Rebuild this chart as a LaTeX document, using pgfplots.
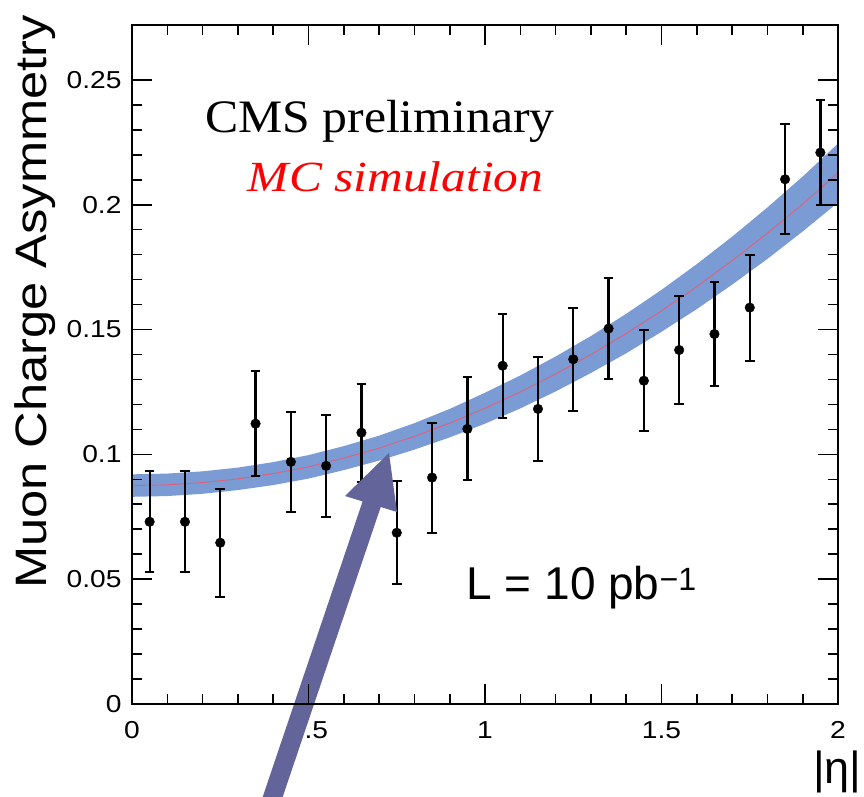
\documentclass[border=0pt]{standalone}
\usepackage{pgfplots}
\pgfplotsset{compat=1.18}
\usepackage{pgfplotstable}
\usepgfplotslibrary{fillbetween}
\usepackage{fontspec}
\setmainfont{Liberation Sans}
\newfontfamily\hv[FakeStretch=1.15]{Liberation Sans}
\newfontfamily\lhv{Liberation Sans}
\newfontfamily\tmsr[FakeStretch=1.07]{Liberation Serif}
\newfontfamily\tmsi[FakeStretch=1.15]{Liberation Serif}
\definecolor{bandblue}{RGB}{122,155,212}
\definecolor{fitred}{RGB}{224,96,122}
\definecolor{arrowc}{RGB}{99,101,154}

\pgfplotstableread{
x c e
0.0 0.0875 0.0045
0.1 0.0878 0.0045
0.2 0.0887 0.0045
0.3 0.0902 0.0045
0.4 0.0923 0.0046
0.5 0.0950 0.0047
0.6 0.0985 0.0048
0.7 0.1025 0.0050
0.8 0.1072 0.0053
0.9 0.1125 0.0057
1.0 0.1185 0.0062
1.1 0.1250 0.0066
1.2 0.1322 0.0070
1.3 0.1400 0.0074
1.4 0.1484 0.0079
1.5 0.1575 0.0084
1.6 0.1672 0.0090
1.7 0.1776 0.0096
1.8 0.1886 0.0103
1.9 0.2003 0.0110
2.0 0.2127 0.0118
}\band

\pgfplotstableread{
x y e
0.05 0.0730 0.0203
0.15 0.0730 0.0203
0.25 0.0646 0.0217
0.35 0.1123 0.0210
0.45 0.0970 0.0200
0.55 0.0954 0.0203
0.65 0.1087 0.0196
0.75 0.0686 0.0207
0.85 0.0907 0.0220
0.95 0.1102 0.0206
1.05 0.1355 0.0208
1.15 0.1182 0.0210
1.25 0.1381 0.0207
1.35 0.1504 0.0203
1.45 0.1295 0.0202
1.55 0.1418 0.0217
1.65 0.1482 0.0210
1.75 0.1588 0.0212
1.85 0.2102 0.0221
1.95 0.2209 0.0211
}\pts

\begin{document}
\begin{tikzpicture}
\begin{axis}[
  scale only axis, width=706pt, height=679pt,
  xmin=0, xmax=2, ymin=0, ymax=0.272,
  axis on top,
  xtick={0,0.5,1,1.5,2}, xticklabels={0,0.5,1,1.5,2},
  ytick={0,0.05,0.1,0.15,0.2,0.25}, yticklabels={0,0.05,0.1,0.15,0.2,0.25},
  minor x tick num=4, minor y tick num=4,
  major tick length=20pt, minor tick length=10pt,
  every tick/.style={black, line width=1.6pt},
  axis line style={line width=1.8pt},
  /pgf/number format/assume math mode=true,
  ticklabel style={font=\hv\fontsize{24.5}{27}\selectfont},
  yticklabel style={xshift=-7pt},
  xticklabel style={yshift=-14pt},
  ylabel={Muon Charge Asymmetry},
  ylabel style={at={(axis description cs:-0.1204,1.0147)}, anchor=base east, inner sep=0pt, font=\hv\fontsize{44}{48}\selectfont},
  xlabel={|η|},
  xlabel style={at={(axis description cs:1,0)}, anchor=base west, xshift=-25pt, yshift=-79pt, inner sep=0pt, font=\lhv\fontsize{45}{50}\selectfont},
]
\addplot[name path=up, draw=none, forget plot] table[x=x, y expr=\thisrow{c}+\thisrow{e}] {\band};
\addplot[name path=lo, draw=none, forget plot] table[x=x, y expr=\thisrow{c}-\thisrow{e}] {\band};
\addplot[fill=bandblue, draw=none] fill between[of=up and lo];
\addplot[fitred, line width=0.9pt] table[x=x, y=c] {\band};
\addplot[only marks, mark=*, mark size=4.8pt, black,
  error bars/.cd, y dir=both, y explicit,
  error bar style={line width=2.3pt, black},
  error mark options={rotate=90, mark size=4.8pt, line width=2pt, black}]
  table[x=x, y=y, y error=e] {\pts};
\node[anchor=base west, inner sep=0pt] at (axis cs:0.2065,0.2288) {\tmsr\fontsize{46.5}{50}\selectfont CMS preliminary};
\node[anchor=base west, inner sep=0pt, text=red] at (axis cs:0.328,0.2053) {\tmsi\itshape\fontsize{43}{46}\selectfont MC simulation};
\node[anchor=base west, inner sep=0pt] at (axis cs:0.947,0.0419) {\lhv\fontsize{46}{50}\selectfont L = 10 pb\textsuperscript{−1}};
\coordinate (O) at (axis cs:0,0);
\end{axis}
\fill[arrowc] ([shift={(257pt,251pt)}]O) -- ([shift={(265pt,192pt)}]O) -- ([shift={(248.7pt,197pt)}]O)
  -- ([shift={(127.8pt,-160.6pt)}]O) -- ([shift={(107.8pt,-160.6pt)}]O)
  -- ([shift={(230.6pt,202.6pt)}]O) -- ([shift={(213pt,208pt)}]O) -- cycle;
\pgfresetboundingbox
\path[use as bounding box] ([shift={(-132pt,-92pt)}]O) rectangle ([shift={(732pt,704pt)}]O);
\end{tikzpicture}
\end{document}
